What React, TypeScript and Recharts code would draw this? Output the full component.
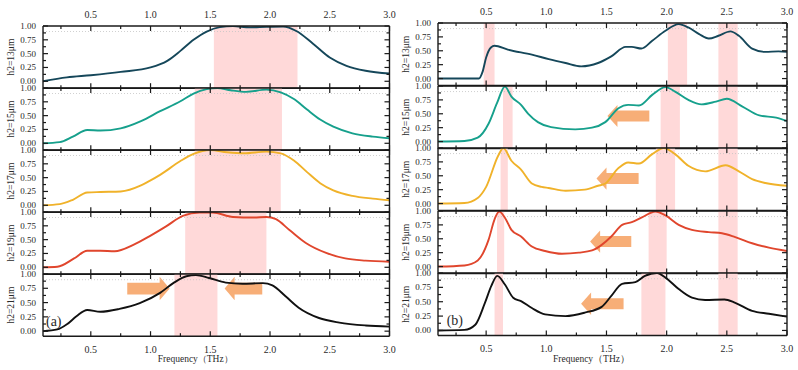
import React from "react"
import { LineChart, Line, XAxis, YAxis, ReferenceArea, ReferenceLine, ReferenceDot } from "recharts"

type Pt = [number, number]

// frequency axis (THz) and transmission axis ticks
const FREQ_TICKS = [0.25, 0.5, 0.75, 1.0, 1.25, 1.5, 1.75, 2.0, 2.25, 2.5, 2.75, 3.0]
const T_TICKS = [0, 0.125, 0.25, 0.375, 0.5, 0.625, 0.75, 0.875, 1.0]
const THICKNESS = ["13", "15", "17", "19", "21"]
const COLORS = ["#15475a", "#16a08c", "#f0b22a", "#e0462d", "#111111"]

// (a) transmission spectra, [frequency, transmission]
const a13: Pt[] = [[0.1, 0.0], [0.3, 0.07], [0.5, 0.11], [0.75, 0.17], [1.0, 0.25], [1.14, 0.37], [1.25, 0.55], [1.36, 0.75], [1.47, 0.9], [1.58, 0.98], [1.69, 1.0], [1.83, 0.975], [1.97, 0.985], [2.11, 0.99], [2.22, 0.91], [2.36, 0.68], [2.5, 0.43], [2.64, 0.28], [2.8, 0.19], [3.0, 0.14]]
const a15: Pt[] = [[0.1, 0.0], [0.24, 0.02], [0.35, 0.12], [0.47, 0.24], [0.58, 0.23], [0.75, 0.27], [0.92, 0.4], [1.08, 0.58], [1.25, 0.76], [1.36, 0.9], [1.47, 0.98], [1.56, 1.0], [1.67, 0.96], [1.8, 0.93], [1.97, 0.97], [2.09, 0.92], [2.2, 0.8], [2.31, 0.61], [2.42, 0.43], [2.53, 0.3], [2.69, 0.18], [2.86, 0.12], [3.0, 0.09]]
const a17: Pt[] = [[0.1, 0.0], [0.24, 0.02], [0.35, 0.1], [0.47, 0.23], [0.58, 0.24], [0.75, 0.25], [0.92, 0.36], [1.0, 0.45], [1.08, 0.55], [1.25, 0.8], [1.36, 0.93], [1.5, 1.0], [1.64, 0.96], [1.78, 0.94], [1.97, 0.97], [2.09, 0.94], [2.2, 0.81], [2.31, 0.6], [2.42, 0.4], [2.53, 0.27], [2.69, 0.17], [2.86, 0.12], [3.0, 0.09]]
const a19: Pt[] = [[0.1, 0.0], [0.22, 0.01], [0.36, 0.16], [0.47, 0.3], [0.58, 0.3], [0.7, 0.29], [0.86, 0.41], [0.99, 0.56], [1.13, 0.74], [1.27, 0.93], [1.41, 0.99], [1.52, 0.99], [1.69, 0.91], [1.86, 0.9], [1.97, 0.91], [2.05, 0.87], [2.16, 0.68], [2.3, 0.44], [2.47, 0.26], [2.63, 0.16], [2.8, 0.12], [3.0, 0.1]]
const a21: Pt[] = [[0.1, 0.0], [0.22, 0.03], [0.3, 0.12], [0.38, 0.26], [0.47, 0.37], [0.58, 0.34], [0.74, 0.39], [0.91, 0.49], [1.08, 0.67], [1.19, 0.84], [1.3, 0.96], [1.38, 0.98], [1.49, 0.93], [1.63, 0.85], [1.77, 0.83], [1.94, 0.84], [2.02, 0.8], [2.13, 0.61], [2.24, 0.41], [2.41, 0.23], [2.58, 0.15], [2.8, 0.1], [3.0, 0.08]]

// (b) transmission spectra
const b13: Pt[] = [[0.1, 0.0], [0.44, 0.0], [0.47, 0.12], [0.5, 0.38], [0.54, 0.56], [0.57, 0.59], [0.68, 0.52], [0.88, 0.43], [1.02, 0.35], [1.16, 0.28], [1.29, 0.22], [1.43, 0.28], [1.54, 0.4], [1.66, 0.57], [1.71, 0.57], [1.79, 0.54], [1.88, 0.68], [1.99, 0.86], [2.1, 0.98], [2.18, 0.92], [2.27, 0.8], [2.35, 0.72], [2.43, 0.77], [2.53, 0.85], [2.6, 0.77], [2.71, 0.54], [2.82, 0.48], [2.93, 0.49], [3.0, 0.48]]
const b15: Pt[] = [[0.1, 0.0], [0.32, 0.01], [0.43, 0.07], [0.52, 0.32], [0.59, 0.69], [0.656, 0.99], [0.71, 0.81], [0.79, 0.66], [0.85, 0.5], [0.93, 0.35], [1.04, 0.26], [1.24, 0.22], [1.38, 0.25], [1.49, 0.35], [1.6, 0.6], [1.68, 0.66], [1.77, 0.65], [1.88, 0.84], [1.99, 0.98], [2.07, 0.9], [2.18, 0.75], [2.29, 0.67], [2.41, 0.72], [2.5, 0.77], [2.63, 0.63], [2.77, 0.47], [2.91, 0.43], [3.0, 0.37]]
const b17: Pt[] = [[0.1, 0.0], [0.32, 0.01], [0.43, 0.1], [0.5, 0.3], [0.6, 0.86], [0.642, 1.0], [0.71, 0.77], [0.79, 0.61], [0.88, 0.36], [0.96, 0.3], [1.02, 0.28], [1.16, 0.23], [1.32, 0.25], [1.43, 0.32], [1.49, 0.36], [1.6, 0.64], [1.68, 0.74], [1.77, 0.72], [1.88, 0.89], [1.975, 1.0], [2.07, 0.89], [2.18, 0.68], [2.32, 0.58], [2.49, 0.69], [2.6, 0.58], [2.71, 0.44], [2.82, 0.37], [3.0, 0.32]]
const b19: Pt[] = [[0.1, 0.0], [0.32, 0.02], [0.43, 0.11], [0.52, 0.48], [0.57, 0.85], [0.608, 0.99], [0.656, 0.88], [0.71, 0.66], [0.79, 0.54], [0.88, 0.36], [0.99, 0.28], [1.13, 0.23], [1.27, 0.25], [1.38, 0.29], [1.46, 0.39], [1.54, 0.54], [1.63, 0.75], [1.71, 0.8], [1.79, 0.88], [1.906, 0.99], [1.99, 0.92], [2.1, 0.75], [2.21, 0.66], [2.35, 0.62], [2.46, 0.6], [2.57, 0.53], [2.71, 0.42], [2.85, 0.34], [3.0, 0.28]]
const b21: Pt[] = [[0.1, 0.0], [0.32, 0.01], [0.41, 0.1], [0.49, 0.48], [0.544, 0.78], [0.592, 0.95], [0.656, 0.8], [0.725, 0.57], [0.79, 0.51], [0.88, 0.39], [0.99, 0.28], [1.16, 0.25], [1.32, 0.31], [1.46, 0.41], [1.54, 0.6], [1.63, 0.81], [1.74, 0.84], [1.82, 0.95], [1.92, 1.0], [1.99, 0.92], [2.1, 0.72], [2.21, 0.57], [2.32, 0.53], [2.48, 0.54], [2.57, 0.48], [2.71, 0.34], [2.85, 0.29], [3.0, 0.24]]

// highlighted frequency windows per row
const bandsA: Pt[][] = [[[1.53, 2.23]], [[1.37, 2.1]], [[1.37, 2.09]], [[1.29, 1.97]], [[1.2, 1.56]]]
const bandsB: Pt[][] = [
  [[0.48, 0.57], [2.01, 2.17], [2.43, 2.59]],
  [[0.64, 0.72], [1.95, 2.11], [2.43, 2.59]],
  [[0.62, 0.68], [1.91, 2.07], [2.43, 2.59]],
  [[0.59, 0.65], [1.85, 2.0], [2.43, 2.59]],
  [[0.57, 0.64], [1.79, 1.99], [2.43, 2.59]],
]

// shift arrows: row, tail and tip frequency, vertical extent of the head
const arrowsA = [
  { row: 4, tail: 0.805, tip: 1.16, lo: 0.54, hi: 0.95 },
  { row: 4, tail: 1.935, tip: 1.62, lo: 0.54, hi: 0.95 },
]
const arrowsB = [
  { row: 1, tail: 1.856, tip: 1.508, lo: 0.26, hi: 0.66 },
  { row: 2, tail: 1.767, tip: 1.417, lo: 0.25, hi: 0.65 },
  { row: 3, tail: 1.706, tip: 1.364, lo: 0.25, hi: 0.65 },
  { row: 4, tail: 1.642, tip: 1.289, lo: 0.27, hi: 0.66 },
]

const seriesA = [a13, a15, a17, a19, a21]
const seriesB = [b13, b15, b17, b19, b21]

const TXT = { fontFamily: "'Liberation Serif', 'Times New Roman', serif" }
const INK = "#2a2a2a"
const AXIS = { stroke: "#1a1a1a", strokeWidth: 1.4 }
const M = 50

const isMajorX = (v: number) => Math.abs(v * 2 - Math.round(v * 2)) < 1e-6
const isMajorY = (v: number) => Math.abs(v * 4 - Math.round(v * 4)) < 1e-6

function FreqTick(props: any) {
  const { x, y, payload, side, show } = props
  const major = isMajorX(payload.value)
  const len = major ? 5 : 3
  const dir = side === "bottom" ? -1 : 1
  return (
    <g>
      <line x1={x} x2={x} y1={y} y2={y + dir * len} stroke="#1a1a1a" strokeWidth={1.2} />
      {show && major && (
        <text x={x} y={side === "bottom" ? y + 16.5 : y - 8} textAnchor="middle" fontSize={10} style={TXT} fill={INK}>
          {payload.value.toFixed(1)}
        </text>
      )}
    </g>
  )
}

function TransTick(props: any) {
  const { x, y, payload, side } = props
  const major = isMajorY(payload.value)
  const len = major ? 5 : 3
  const dir = side === "left" ? 1 : -1
  return (
    <g>
      <line x1={x} x2={x + dir * len} y1={y} y2={y} stroke="#1a1a1a" strokeWidth={1.2} />
      {side === "left" && major && (
        <text x={x - 7} y={y + 3} textAnchor="end" fontSize={9} style={TXT} fill={INK}>
          {payload.value.toFixed(2)}
        </text>
      )}
    </g>
  )
}

function RowTitle(props: any) {
  const { viewBox, text } = props
  const cx = viewBox.x + viewBox.width - 32
  const cy = viewBox.y + viewBox.height / 2
  return (
    <text x={cx} y={cy} transform={`rotate(-90, ${cx}, ${cy})`} textAnchor="middle" dominantBaseline="central" fontSize={9.5} style={TXT} fill={INK}>
      {text}
    </text>
  )
}

function FreqTitle(props: any) {
  const { viewBox } = props
  return (
    <text x={viewBox.x + viewBox.width / 2 - 21} y={viewBox.y + 26} textAnchor="middle" fontSize={9.5} style={TXT} fill={INK}>
      Frequency（THz）
    </text>
  )
}

function PanelTag(props: any) {
  const { viewBox, text } = props
  return (
    <text x={viewBox.x + (viewBox.width || 0) / 2} y={viewBox.y + (viewBox.height || 0) / 2} textAnchor="middle" dominantBaseline="central" fontSize={14} style={TXT} fill={INK}>
      {text}
    </text>
  )
}

function Arrow(props: any) {
  const { x, y, width, height, pointRight } = props
  const cy = y + height / 2
  const bh = height / 4
  const hl = 10
  const pts = pointRight
    ? [[x, cy - bh], [x + width - hl, cy - bh], [x + width - hl, y], [x + width, cy], [x + width - hl, y + height], [x + width - hl, cy + bh], [x, cy + bh]]
    : [[x + width, cy - bh], [x + hl, cy - bh], [x + hl, y], [x, cy], [x + hl, y + height], [x + hl, cy + bh], [x + width, cy + bh]]
  return <polygon points={pts.map((p) => p.join(",")).join(" ")} fill="#f59a55" fillOpacity={0.8} />
}

interface Box { left: number; top: number; width: number; height: number }

function Row({ data, color, label, bands, arrows, tag, box, first, last }: any) {
  const b: Box = box
  const yMin = last ? -0.088 : -0.125
  const rows = (data as Pt[]).map(([f, v]) => ({ f, v }))
  // each axis takes 1px, margins shrink by the same amount so the plot box stays put
  const m = M - 1
  return (
    <div style={{ position: "absolute", left: b.left - M, top: b.top - M }}>
      <LineChart width={b.width + 2 * M} height={b.height + 2 * M} data={rows} margin={{ top: m, right: m, bottom: m, left: m }}>
        <XAxis xAxisId="b" dataKey="f" type="number" domain={[0.1, 3]} allowDataOverflow ticks={FREQ_TICKS} interval={0}
          orientation="bottom" height={1} tickSize={0} tickMargin={0} tickLine={false} axisLine={AXIS}
          tick={(p: any) => <FreqTick {...p} side="bottom" show={last} />}
          label={last ? <FreqTitle /> : undefined} />
        <XAxis xAxisId="t" dataKey="f" type="number" domain={[0.1, 3]} allowDataOverflow ticks={FREQ_TICKS} interval={0}
          orientation="top" height={1} tickSize={0} tickMargin={0} tickLine={false} axisLine={AXIS}
          tick={(p: any) => <FreqTick {...p} side="top" show={first} />} />
        <YAxis yAxisId="l" type="number" domain={[yMin, 1]} allowDataOverflow ticks={T_TICKS} interval={0}
          width={1} tickSize={0} tickMargin={0} tickLine={false} axisLine={AXIS}
          tick={(p: any) => <TransTick {...p} side="left" />}
          label={<RowTitle text={label} />} />
        <YAxis yAxisId="r" orientation="right" type="number" domain={[yMin, 1]} allowDataOverflow ticks={T_TICKS} interval={0}
          width={1} tickSize={0} tickMargin={0} tickLine={false} axisLine={AXIS}
          tick={(p: any) => <TransTick {...p} side="right" />} />
        {(bands as Pt[]).map(([x1, x2], i) => (
          <ReferenceArea key={`band-${i}`} xAxisId="b" yAxisId="l" x1={x1} x2={x2} fill="#ffd9d9" fillOpacity={1} stroke="none" />
        ))}
        <ReferenceLine xAxisId="b" yAxisId="l" y={0.9} stroke="#c4c4c4" strokeWidth={0.8} strokeDasharray="1 2" />
        <Line xAxisId="b" yAxisId="l" dataKey="v" type="monotone" stroke={color} strokeWidth={1.9} dot={false} isAnimationActive={false} />
        {arrows.map((a: any, i: number) => (
          <ReferenceArea key={`arrow-${i}`} xAxisId="b" yAxisId="l" x1={Math.min(a.tail, a.tip)} x2={Math.max(a.tail, a.tip)} y1={a.lo} y2={a.hi}
            shape={(p: any) => <Arrow {...p} pointRight={a.tip > a.tail} />} />
        ))}
        {tag && (
          <ReferenceDot xAxisId="b" yAxisId="l" x={tag.x} y={tag.y} r={0} fill="none" stroke="none"
            label={<PanelTag text={tag.text} />} />
        )}
      </LineChart>
    </div>
  )
}

function Panel({ series, bands, arrows, tag, left, top, width, rowH }: any) {
  return (
    <>
      {series.map((data: Pt[], i: number) => (
        <Row key={i} data={data} color={COLORS[i]} label={`h2=${THICKNESS[i]}μm`} bands={bands[i]}
          arrows={arrows.filter((a: any) => a.row === i)} tag={i === 4 ? tag : null}
          box={{ left, top: top + i * rowH, width, height: rowH }} first={i === 0} last={i === 4} />
      ))}
    </>
  )
}

export default function App() {
  return (
    <div style={{ position: "absolute", left: 0, top: 0, width: 798, height: 370, background: "#fff", overflow: "hidden" }}>
      <Panel series={seriesA} bands={bandsA} arrows={arrowsA} tag={{ text: "(a)", x: 0.19, y: 0.17 }}
        left={42.7} top={25.5} width={346.5} rowH={62.2} />
      <Panel series={seriesB} bands={bandsB} arrows={arrowsB} tag={{ text: "(b)", x: 0.24, y: 0.17 }}
        left={438} top={23.3} width={349} rowH={62.5} />
    </div>
  )
}
